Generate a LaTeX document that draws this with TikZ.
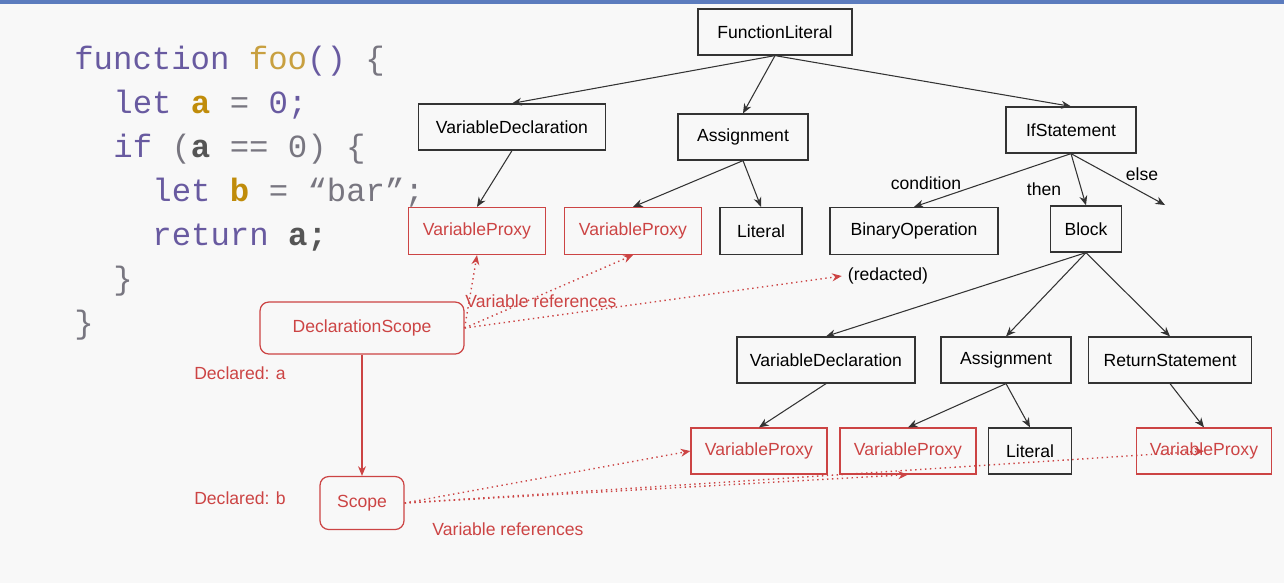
\documentclass[tikz,border=0pt]{standalone}
\usepackage{fontspec}
\setmainfont{Liberation Sans}
\newfontfamily\codefont{Liberation Mono}
\usetikzlibrary{arrows.meta}
\definecolor{bg}{RGB}{248,248,248}
\definecolor{topbar}{RGB}{92,124,190}
\definecolor{proxyred}{RGB}{204,68,68}
\definecolor{boxgray}{RGB}{51,51,51}
\definecolor{codepurple}{RGB}{104,90,160}
\definecolor{codegold}{RGB}{200,160,64}
\definecolor{declgold}{RGB}{192,140,10}
\definecolor{codegray}{RGB}{120,118,128}
\definecolor{usegray}{RGB}{85,85,85}
\begin{document}
\begin{tikzpicture}[x=0.02cm, y=-0.02cm, every node/.style={font=\fontsize{10}{12}\selectfont},
  ast/.style={draw=boxgray, line width=0.7pt, minimum height=0.92cm, inner sep=1pt},
  proxy/.style={ast, draw=proxyred, text=proxyred},
  scopebox/.style={proxy, rounded corners=5pt, minimum height=1.04cm},
  child/.style={draw=boxgray, line width=0.6pt, -{Stealth[length=5.5pt,width=4.5pt]}},
  ref/.style={draw=proxyred, line width=0.8pt, dotted, -{Stealth[length=5.5pt,width=4.5pt]}},
  code/.style={anchor=base west, inner sep=0pt, font=\codefont\fontsize{18.4}{22}\selectfont}]
  \fill[bg] (0,0) rectangle (1284,583);
  \fill[topbar] (0,0) rectangle (1284,4);
  % source code
  \node[code] (ln1) at (74,69) {\color{codepurple}function \color{codegold}foo\color{codepurple}() \color{codegray}\{};
  \node[code] (ln2) at (113,113) {\color{codepurple}let \textcolor{declgold}{\textbf{a}} \color{codegray}= \color{codepurple}0;};
  \node[code] (ln3) at (113,157) {\color{codepurple}if \color{codegray}(\textcolor{usegray}{\textbf{a}} == 0) \{};
  \node[code] (ln4) at (152,201) {\color{codepurple}let \textcolor{declgold}{\textbf{b}} \color{codegray}= “bar”;};
  \node[code] (ln5) at (152,245) {\color{codepurple}return \textcolor{usegray}{\textbf{a;}}};
  \node[code] (ln6) at (113,289) {\color{codegray}\}};
  \node[code] (ln7) at (74,333) {\color{codegray}\}};
  % syntax tree
  \node[ast, minimum width=3.08cm] (fl) at (775,32) {FunctionLiteral};
  \node[ast, minimum width=3.74cm] (vd) at (512,127) {VariableDeclaration};
  \node[ast, minimum width=2.6cm] (as) at (743,137) {Assignment};
  \node[ast, minimum width=2.6cm] (if) at (1071,130) {IfStatement};
  \node[proxy, minimum width=2.74cm, minimum height=0.94cm] (vpa) at (477,231) {VariableProxy};
  \node[proxy, minimum width=2.74cm, minimum height=0.94cm] (vpb) at (633,231) {VariableProxy};
  \node[ast, minimum width=1.64cm, minimum height=0.94cm] (lit) at (761,231) {Literal};
  \node[ast, minimum width=3.36cm, minimum height=0.94cm] (binop) at (914,231) {BinaryOperation};
  \node[ast, minimum width=1.42cm] (blk) at (1086,229) {Block};
  \coordinate (elseend) at (1165,205);
  \node (redacted) at (888,276) {(redacted)};
  \node[ast, minimum width=3.56cm] (vd2) at (826,360) {VariableDeclaration};
  \node[ast, minimum width=2.6cm] (as2) at (1006,360) {Assignment};
  \node[ast, minimum width=3.26cm] (ret) at (1170,360) {ReturnStatement};
  \node[proxy, minimum width=2.72cm] (vpc) at (759,451) {VariableProxy};
  \node[proxy, minimum width=2.72cm] (vpd) at (908,451) {VariableProxy};
  \node[ast, minimum width=1.66cm] (lit2) at (1030,451) {Literal};
  \node[proxy, minimum width=2.7cm] (vpe) at (1204,451) {VariableProxy};
  \foreach \a/\b in {fl/vd, fl/as, fl/if, vd/vpa, as/vpb, as/lit, if/binop, if/blk,
      blk/vd2, blk/as2, blk/ret, vd2/vpc, as2/vpd, as2/lit2, ret/vpe}
    \draw[child] (\a.south) -- (\b.north);
  \draw[child] (if.south) -- (elseend);
  \foreach \n/\x/\y/\t in {lblcond/926/183/condition, lblthen/1044/189/then, lblelse/1142/174/else}
    \node (\n) at (\x,\y) {\t};
  % scopes
  \node[scopebox, minimum width=4.08cm] (dscope) at (362,328) {DeclarationScope};
  \node[scopebox, minimum width=1.68cm, minimum height=1.06cm] (bscope) at (362,503) {Scope};
  \draw[proxyred, line width=0.7pt, -{Stealth[length=5.5pt,width=4.5pt]}] (dscope) -- (bscope);
  \foreach \n/\x/\y/\t in {decla/240/373/Declared: a, declb/240/498/Declared: b,
      refsa/541/301/Variable references, refsb/508/529/Variable references}
    \node[text=proxyred] (\n) at (\x,\y) {\t};
  \foreach \t in {vpa.south, vpb.south, redacted.west}
    \draw[ref] (dscope.east) -- (\t);
  \foreach \t in {vpc.west, vpd.south, vpe.center}
    \draw[ref] (bscope.east) -- (\t);
\end{tikzpicture}
\end{document}
